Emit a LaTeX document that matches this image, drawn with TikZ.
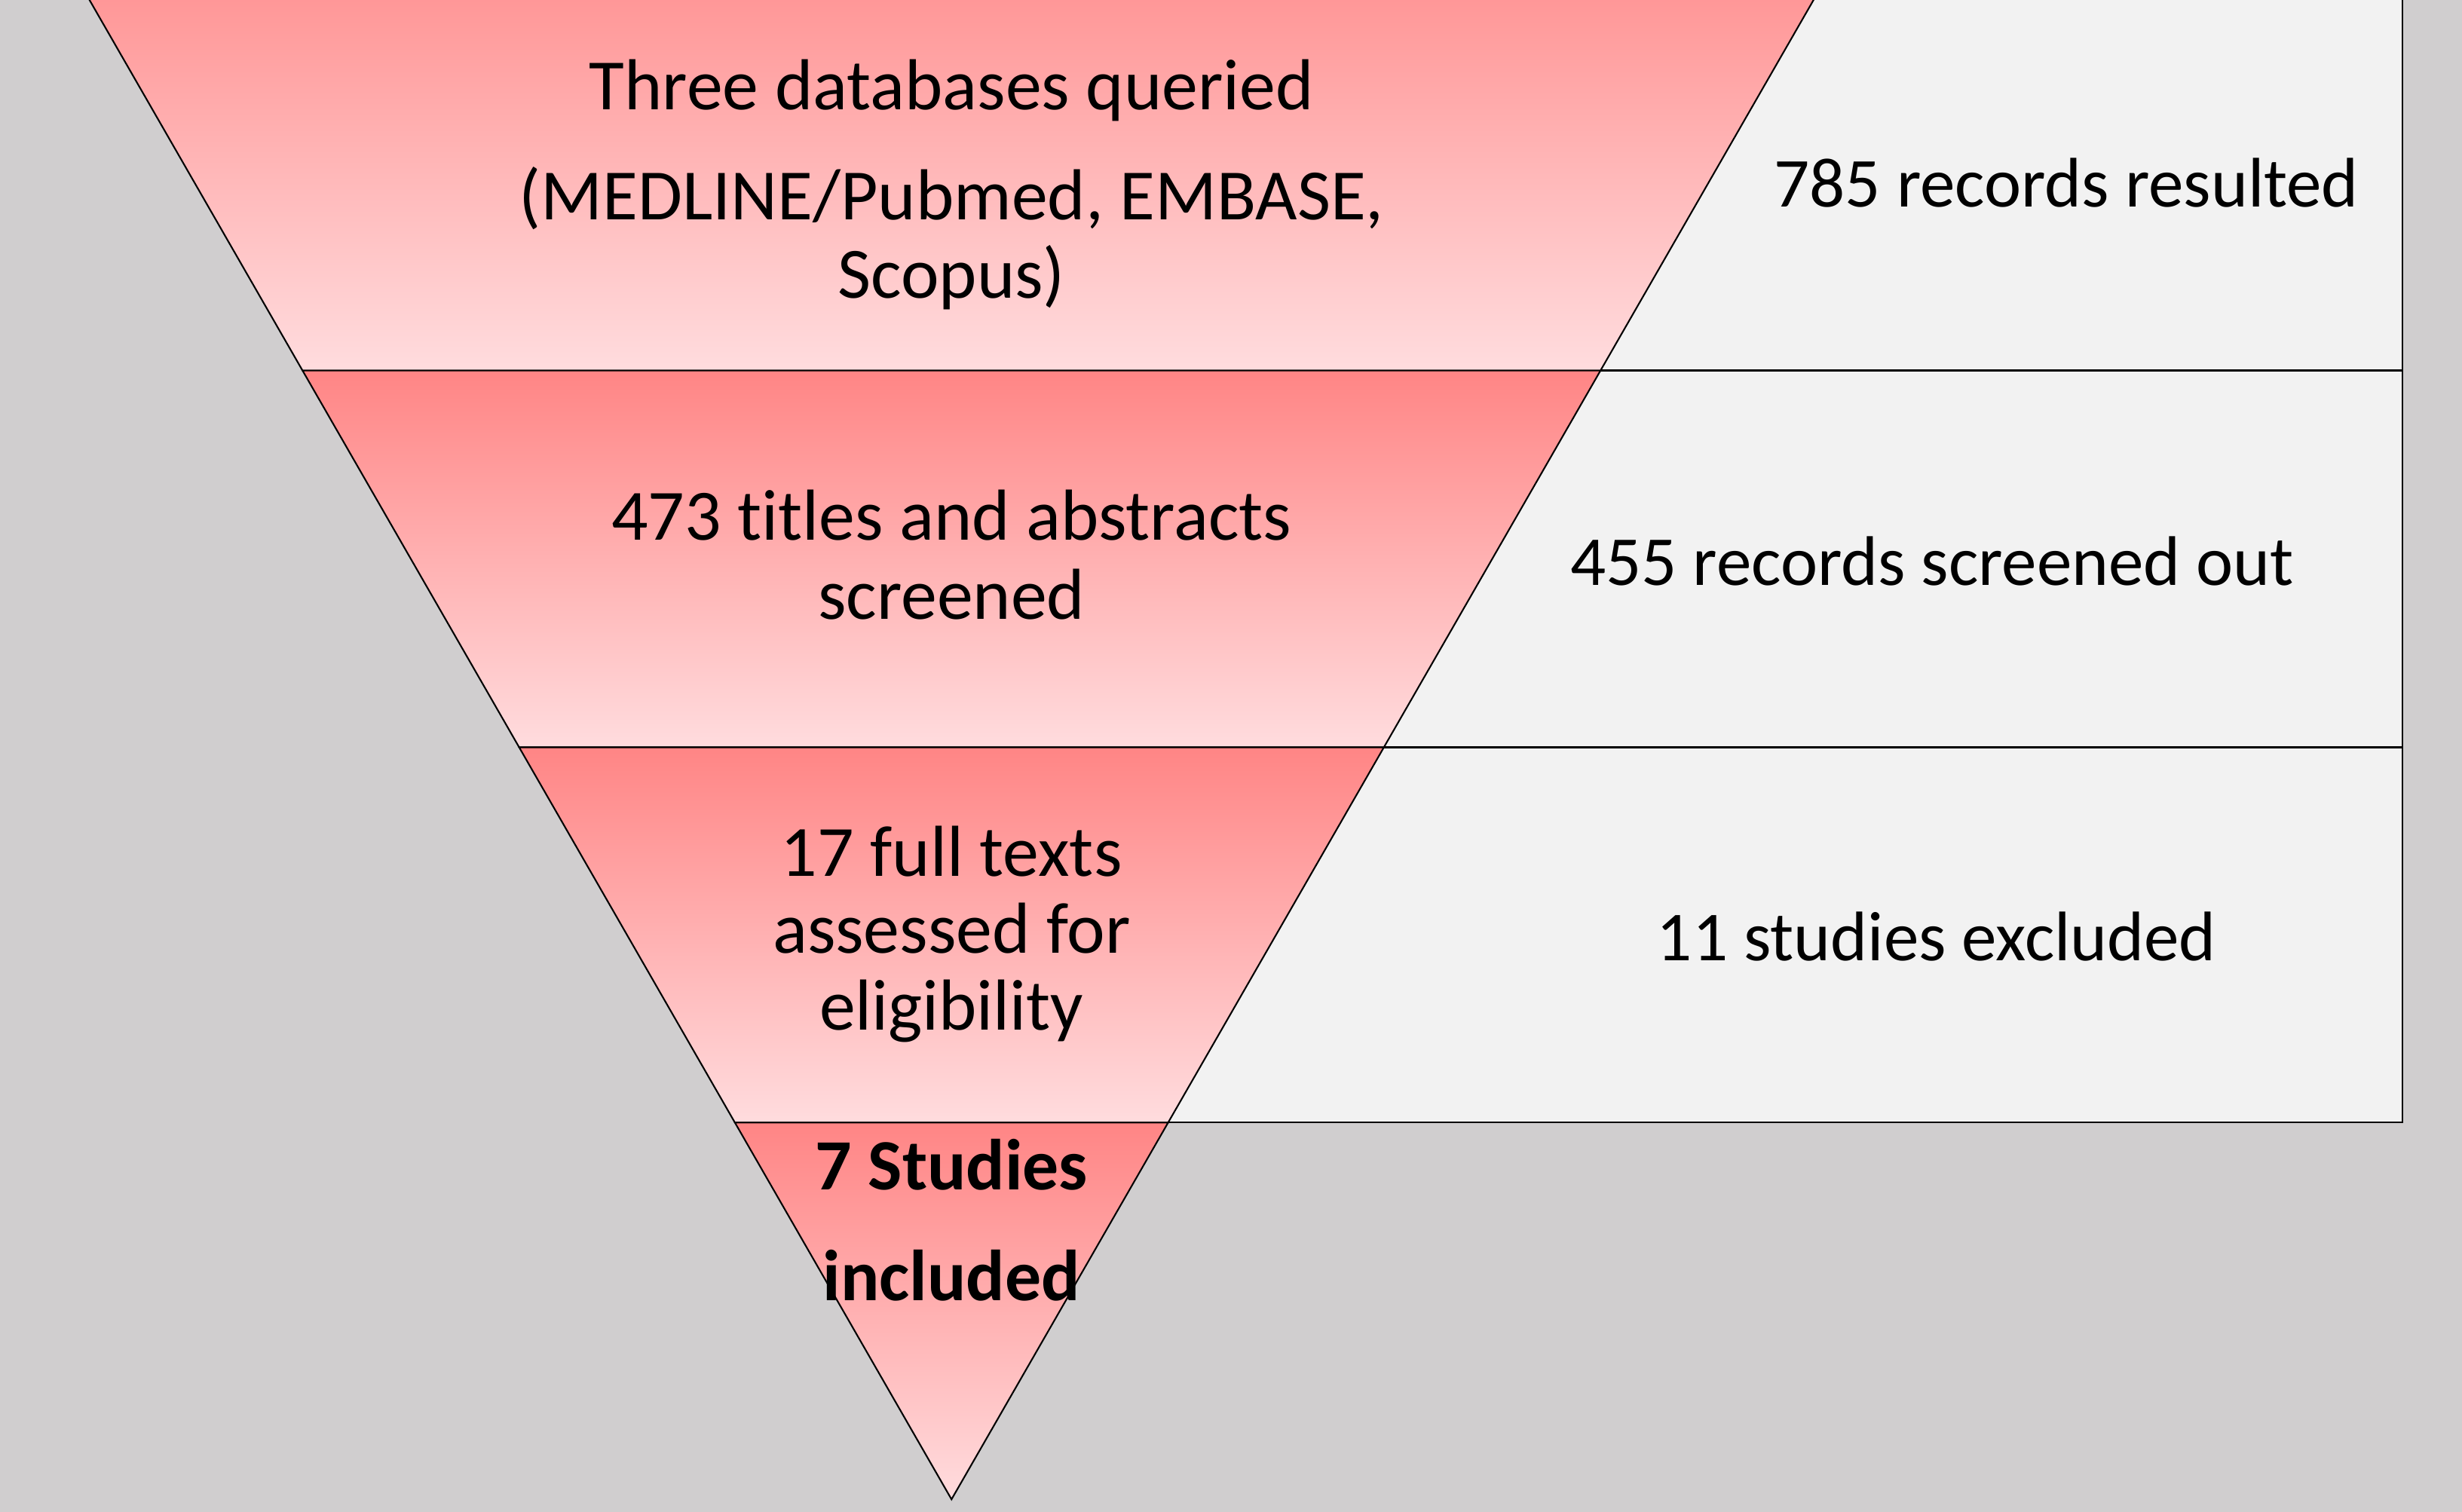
\documentclass[tikz,border=0pt]{standalone}
\usepackage{fontspec}
\setmainfont{Carlito}[Ligatures=NoCommon]
\definecolor{bgc}{HTML}{D0CECF}
\definecolor{panelc}{HTML}{F2F2F2}
\definecolor{pinktop}{HTML}{FF8585}
\definecolor{pinkbot}{HTML}{FFDCDE}
\begin{document}
\begin{tikzpicture}[x=1pt,y=-1pt,
  band/.style={draw=black,line width=1pt,top color=pinktop,bottom color=pinkbot},
  panelbox/.style={draw=black,line width=1.1pt,fill=panelc},
  lbl/.style={anchor=base,inner sep=0pt,font=\fontsize{46}{50}\selectfont},
  slbl/.style={anchor=base,inner sep=0pt,font=\fontsize{44.7}{50}\selectfont},
  blbl/.style={anchor=base,inner sep=0pt,font=\fontsize{46}{50}\selectfont\bfseries}]
\useasboundingbox (0,0) rectangle (1568,963);
\fill[bgc] (0,0) rectangle (1568,963);
\clip (0,0) rectangle (1568,963);
% right panels
\draw[panelbox] (600,-20) rectangle (1530,236);
\draw[panelbox] (600,236) rectangle (1530,476);
\draw[panelbox] (600,476) rectangle (1530,715);
% funnel bands
\path[band] (20.78,-63) -- (1191.22,-63) -- (1019.33,236) -- (192.67,236) -- cycle;
\path[band] (192.67,236) -- (1019.33,236) -- (881.36,476) -- (330.64,476) -- cycle;
\path[band] (330.64,476) -- (881.36,476) -- (743.97,715) -- (468.03,715) -- cycle;
\path[band] (468.03,715) -- (743.97,715) -- (606,955) -- cycle;
% funnel texts
\node[lbl] (t1a) at (606,70) {Three databases queried};
\node[lbl] (t1b) at (606,140) {(MEDLINE/Pubmed, EMBASE,};
\node[lbl] (t1c) at (606,190) {Scopus)};
\node[lbl] (t2a) at (606,344) {473 titles and abstracts};
\node[lbl] (t2b) at (606,394.5) {screened};
\node[lbl] (t3a) at (606,558) {17 full texts};
\node[lbl] (t3b) at (606,607.3) {assessed for};
\node[lbl] (t3c) at (606,656) {eligibility};
\node[blbl] (t4a) at (606,758) {7 Studies};
\node[blbl] (t4b) at (606,828.6) {included};
% side texts
\node[slbl] (r1) at (1316,132) {785 records resulted};
\node[slbl] (r2) at (1230.5,373) {455 records screened out};
\node[slbl] (r3) at (1233.3,612) {11 studies excluded};
\end{tikzpicture}
\end{document}
